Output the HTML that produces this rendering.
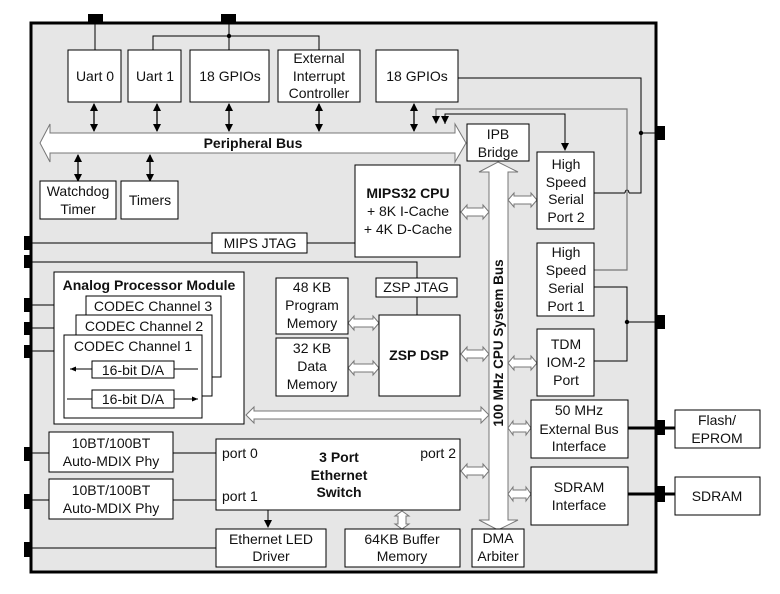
<!DOCTYPE html>
<html><head><meta charset="utf-8"><style>
html,body{margin:0;padding:0;background:#fff}
svg{display:block}
text{font-family:"Liberation Sans",Arial,sans-serif;font-size:14px;fill:#111}
.b{font-weight:bold}
</style></head><body>
<svg width="780" height="594" viewBox="0 0 780 594" xmlns="http://www.w3.org/2000/svg">
<defs>
<marker id="ah" markerWidth="8" markerHeight="8" refX="7" refY="4" orient="auto-start-reverse" markerUnits="userSpaceOnUse"><path d="M0,0 L8,4 L0,8 Z" fill="#000"/></marker>
<marker id="as" markerWidth="6" markerHeight="6" refX="6" refY="3" orient="auto" markerUnits="userSpaceOnUse"><path d="M0,0.5 L6,3 L0,5.5 Z" fill="#000"/></marker>
</defs>
<rect x="31" y="23" width="625" height="549" fill="#e6e6e6" stroke="#000" stroke-width="3"/>
<g fill="#000">
<rect x="88" y="14" width="15" height="8"/><rect x="221" y="14" width="15" height="8"/>
<rect x="657" y="126" width="8" height="14"/><rect x="657" y="315" width="8" height="14"/>
<rect x="657" y="420" width="8" height="15"/><rect x="657" y="486" width="8" height="16"/>
<rect x="24" y="236" width="6" height="14"/><rect x="24" y="255" width="6" height="13"/>
<rect x="24" y="298" width="6" height="14"/><rect x="24" y="322" width="6" height="13"/>
<rect x="24" y="345" width="6" height="13"/><rect x="24" y="447" width="6" height="14"/>
<rect x="24" y="494" width="6" height="15"/><rect x="24" y="542" width="6" height="15"/>
</g>
<g stroke="#000" stroke-width="1" fill="none">
<path d="M95,22 V50"/>
<path d="M229,22 V50 M153,50 V36 H319 V50"/>
<path d="M30,243 H212 M307,243 H355"/>
<path d="M30,262 H417 V278 M417,297 V315"/>
<path d="M458,78 H641 V193 H629 M625,193 H594"/>
<path d="M641,133 H657"/>
<path d="M445,124 V114 H565 V150" marker-end="url(#ah)"/>
<path d="M445,114 V123" marker-end="url(#ah)"/>
<path d="M594,287 H627 V361 H594 M627,322 H657"/>
<path d="M30,305 H54 M30,328 H54 M30,351 H54"/>
<path d="M30,453 H49 M30,500 H49 M173,453 H216 M173,500 H216"/>
<path d="M30,548 H216"/>
<path d="M268,510 V527" marker-end="url(#ah)"/>
</g>
<path d="M625,193 A2,3 0 0 1 629,193" stroke="#000" fill="none"/>
<g stroke="#777" stroke-width="1.2" fill="none">
<path d="M594,270 H627 V109 H436 V116"/>
</g>
<path d="M432,116 L440,116 L436,124 Z" fill="#000"/>
<circle cx="641" cy="133" r="2.2" fill="#000"/><circle cx="627" cy="322" r="2.2" fill="#000"/><circle cx="229" cy="36" r="2.2" fill="#000"/>
<path d="M657,428 H675 M628,428 H657 M628,494 H675" stroke="#000" stroke-width="3"/>
<g stroke="#000" stroke-width="1.3" marker-start="url(#ah)" marker-end="url(#ah)">
<line x1="94" y1="104" x2="94" y2="131"/><line x1="157" y1="104" x2="157" y2="131"/>
<line x1="229" y1="104" x2="229" y2="131"/><line x1="319" y1="104" x2="319" y2="131"/>
<line x1="414" y1="104" x2="414" y2="131"/>
<line x1="78" y1="155" x2="78" y2="181"/><line x1="150" y1="155" x2="150" y2="181"/>
</g>
<path d="M40,143 L50,124 L50,133 L455,133 L455,124 L466,143 L455,162 L455,153 L50,153 L50,162 Z" fill="#fff" stroke="#777" stroke-width="1"/>
<text x="253" y="148" text-anchor="middle" class="b">Peripheral Bus</text>
<path d="M498,162 L518,172 L508,172 L508,520 L518,520 L498,530 L479,520 L489,520 L489,172 L479,172 Z" fill="#fff" stroke="#777" stroke-width="1"/>
<text transform="translate(503,343) rotate(-90)" text-anchor="middle" class="b" style="font-size:13.5px">100 MHz CPU System Bus</text>
<path d="M246,415 L254,407 L254,411 L481,411 L481,407 L489,415 L481,423 L481,419 L254,419 L254,423 Z" fill="#fff" stroke="#777" stroke-width="1"/>
<g fill="#fff" stroke="#777" stroke-width="1">
<path d="M461,212 l6,-7 v3 h16 v-3 l6,7 l-6,7 v-3 h-16 v3 Z"/>
<path d="M508,200 l6,-7 v3 h17 v-3 l6,7 l-6,7 v-3 h-17 v3 Z"/>
<path d="M461,354 l6,-7 v3 h16 v-3 l6,7 l-6,7 v-3 h-16 v3 Z"/>
<path d="M508,363 l6,-7 v3 h17 v-3 l6,7 l-6,7 v-3 h-17 v3 Z"/>
<path d="M508,428 l5,-7 v3 h13 v-3 l5,7 l-5,7 v-3 h-13 v3 Z"/>
<path d="M508,494 l5,-7 v3 h13 v-3 l5,7 l-5,7 v-3 h-13 v3 Z"/>
<path d="M461,471 l6,-7 v3 h16 v-3 l6,7 l-6,7 v-3 h-16 v3 Z"/>
<path d="M348,323 l6,-7 v3 h19 v-3 l6,7 l-6,7 v-3 h-19 v3 Z"/>
<path d="M348,368 l6,-7 v3 h19 v-3 l6,7 l-6,7 v-3 h-19 v3 Z"/>
<path d="M402,511 l7,5 h-3 v8 h3 l-7,5 l-7,-5 h3 v-8 h-3 Z"/>
</g>
<g fill="#fff" stroke="#000" stroke-width="1">
<rect x="68" y="50" width="53" height="52"/><rect x="128" y="50" width="53" height="52"/>
<rect x="190" y="50" width="79" height="52"/><rect x="278" y="50" width="82" height="52"/>
<rect x="376" y="50" width="82" height="52"/>
<rect x="40" y="181" width="76" height="38"/><rect x="121" y="181" width="57" height="38"/>
<rect x="355" y="165" width="105" height="92"/>
<rect x="212" y="233" width="95" height="20"/>
<rect x="467" y="124" width="62" height="37"/>
<rect x="537" y="152" width="57" height="77"/><rect x="537" y="243" width="57" height="73"/>
<rect x="537" y="329" width="57" height="67"/>
<rect x="531" y="400" width="97" height="58"/><rect x="531" y="467" width="97" height="58"/>
<rect x="472" y="529" width="52" height="38"/>
<rect x="379" y="315" width="81" height="81"/>
<rect x="276" y="278" width="72" height="56"/><rect x="276" y="338" width="72" height="58"/>
<rect x="376" y="278" width="81" height="19"/>
<rect x="54" y="272" width="190" height="152"/>
<rect x="86" y="296" width="135" height="81"/><rect x="76" y="315" width="136" height="81"/>
<rect x="64" y="335" width="138" height="83"/>
<rect x="92" y="361" width="82" height="17"/><rect x="92" y="390" width="82" height="18"/>
<rect x="49" y="432" width="124" height="40"/><rect x="49" y="479" width="124" height="40"/>
<rect x="216" y="439" width="244" height="71"/>
<rect x="216" y="529" width="110" height="38"/><rect x="345" y="529" width="115" height="38"/>
<rect x="675" y="410" width="85" height="38"/><rect x="675" y="477" width="85" height="38"/>
</g>
<g stroke="#000" stroke-width="1" fill="none">
<path d="M92,369 H70" marker-end="url(#as)"/><path d="M174,369 H198"/>
<path d="M67,399 H92"/><path d="M174,399 H198" marker-end="url(#as)"/>
</g>
<g text-anchor="middle">
<text x="95" y="81">Uart 0</text><text x="155" y="81">Uart 1</text>
<text x="230" y="81">18 GPIOs</text>
<text x="319" y="63">External</text><text x="319" y="81">Interrupt</text><text x="319" y="98">Controller</text>
<text x="417" y="81">18 GPIOs</text>
<text x="78" y="196">Watchdog</text><text x="78" y="214">Timer</text>
<text x="150" y="205">Timers</text>
<text x="408" y="198" class="b">MIPS32 CPU</text><text x="408" y="216">+ 8K I-Cache</text><text x="408" y="234">+ 4K D-Cache</text>
<text x="260" y="248">MIPS JTAG</text>
<text x="498" y="139">IPB</text><text x="498" y="157">Bridge</text>
<text x="566" y="169">High</text><text x="566" y="187">Speed</text><text x="566" y="204">Serial</text><text x="566" y="222">Port 2</text>
<text x="566" y="257">High</text><text x="566" y="275">Speed</text><text x="566" y="293">Serial</text><text x="566" y="311">Port 1</text>
<text x="566" y="349">TDM</text><text x="566" y="367">IOM-2</text><text x="566" y="385">Port</text>
<text x="579" y="415">50 MHz</text><text x="579" y="434">External Bus</text><text x="579" y="451">Interface</text>
<text x="579" y="492">SDRAM</text><text x="579" y="510">Interface</text>
<text x="498" y="543">DMA</text><text x="498" y="561">Arbiter</text>
<text x="419" y="360" class="b">ZSP DSP</text>
<text x="312" y="292">48 KB</text><text x="312" y="310">Program</text><text x="312" y="328">Memory</text>
<text x="312" y="353">32 KB</text><text x="312" y="371">Data</text><text x="312" y="389">Memory</text>
<text x="416" y="292">ZSP JTAG</text>
<text x="149" y="290" class="b">Analog Processor Module</text>
<text x="153" y="311">CODEC Channel 3</text><text x="144" y="331">CODEC Channel 2</text>
<text x="133" y="351">CODEC Channel 1</text>
<text x="133" y="375">16-bit D/A</text><text x="133" y="404">16-bit D/A</text>
<text x="111" y="448">10BT/100BT</text><text x="111" y="466">Auto-MDIX Phy</text>
<text x="111" y="495">10BT/100BT</text><text x="111" y="513">Auto-MDIX Phy</text>
<text x="339" y="462" class="b">3 Port</text><text x="339" y="480" class="b">Ethernet</text><text x="339" y="497" class="b">Switch</text>
<text x="271" y="544">Ethernet LED</text><text x="271" y="561">Driver</text>
<text x="402" y="544">64KB Buffer</text><text x="402" y="561">Memory</text>
<text x="717" y="425">Flash/</text><text x="717" y="443">EPROM</text>
<text x="717" y="501">SDRAM</text>
</g>
<text x="222" y="458">port 0</text><text x="222" y="501">port 1</text>
<text x="456" y="458" text-anchor="end">port 2</text>
</svg>
</body></html>
